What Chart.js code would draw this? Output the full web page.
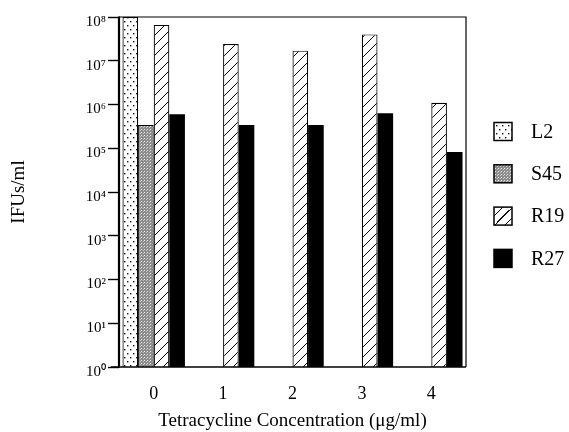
<!DOCTYPE html>
<html>
<head>
<meta charset="utf-8">
<script src="https://cdn.jsdelivr.net/npm/chart.js@4/dist/chart.umd.min.js"></script>
<style>
  html, body { margin: 0; padding: 0; background: #fff; }
  #wrap { width: 569px; height: 432px; }
</style>
</head>
<body>
<div id="wrap"><canvas id="chart" width="569" height="432"></canvas></div>
<script>
// Data
const concentrations = ['0', '1', '2', '3', '4'];
const seriesNames = ['L2', 'S45', 'R19', 'R27'];
const l2Values = [1.0e8, null, null, null, null];
const s45Values = [3.4e5, null, null, null, null];
const r19Values = [6.6e7, 2.4e7, 1.7e7, 4.0e7, 1.1e6];
const r27Values = [6.0e5, 3.4e5, 3.4e5, 6.3e5, 8.2e4];
const tickValues = [1, 1e1, 1e2, 1e3, 1e4, 1e5, 1e6, 1e7, 1e8];
const tickLabels = ['10⁰', '10¹', '10²', '10³', '10⁴', '10⁵', '10⁶', '10⁷', '10⁸'];

const FONT = "'Liberation Serif', 'Times New Roman', serif";

// Fill patterns
const makePattern = (w, h, draw) => {
	let c = document.createElement('canvas');
	c.width = w;
	c.height = h;
	let g = c.getContext('2d');
	draw(g, w, h);
	return g.createPattern(c, 'repeat');
};

const dots = makePattern(6, 8, (g, w, h) => {
	g.fillStyle = '#fff';
	g.fillRect(0, 0, w, h);
	g.fillStyle = '#111';
	g.fillRect(1, 1, 1.4, 1.4);
	g.fillRect(4, 5, 1.4, 1.4);
});

const stipple = makePattern(3, 3, (g, w, h) => {
	g.fillStyle = '#8c8c8c';
	g.fillRect(0, 0, w, h);
	g.fillStyle = '#e8e8e8';
	g.fillRect(0, 0, 1, 1);
	g.fillStyle = '#c4c4c4';
	g.fillRect(2, 1, 1, 1);
});

const hatch = makePattern(10, 10, (g, w, h) => {
	g.fillStyle = '#fff';
	g.fillRect(0, 0, w, h);
	g.strokeStyle = '#000';
	g.lineWidth = 1;
	g.beginPath();
	g.moveTo(-1, h + 1);
	g.lineTo(w + 1, -1);
	g.stroke();
});

const fills = [dots, stipple, hatch, '#000'];

// Frame around the plot area
const framePlugin = {
	id: 'frame',
	afterDatasetsDraw(chart) {
		const { left, right, top, bottom } = chart.chartArea;
		const ctx = chart.ctx;
		ctx.save();
		ctx.strokeStyle = '#000';
		ctx.lineWidth = 1.2;
		ctx.beginPath();
		ctx.moveTo(left, top);
		ctx.lineTo(right, top);
		ctx.lineTo(right, bottom);
		ctx.stroke();
		ctx.lineWidth = 1.6;
		ctx.beginPath();
		ctx.moveTo(left - 8, bottom);
		ctx.lineTo(right, bottom);
		ctx.stroke();
		ctx.lineWidth = 2.2;
		ctx.beginPath();
		ctx.moveTo(left, top - 0.5);
		ctx.lineTo(left, bottom + 0.5);
		ctx.stroke();
		ctx.restore();
	}
};

// Legend on the right, drawn by hand to match the figure
const legendPlugin = {
	id: 'sideLegend',
	afterDraw(chart) {
		const ctx = chart.ctx;
		ctx.save();
		ctx.font = `20px ${FONT}`;
		ctx.textBaseline = 'middle';
		chart.data.datasets.forEach((ds, i) => {
			let y = 131.5 + i * 42.3;
			ctx.fillStyle = fills[i];
			ctx.fillRect(494, y - 9, 18, 18);
			if (i === 2) {
				ctx.strokeStyle = '#000';
				ctx.lineWidth = 1;
				ctx.beginPath();
				ctx.moveTo(497, y + 6);
				ctx.lineTo(509, y - 6);
				ctx.stroke();
			}
			ctx.strokeStyle = '#000';
			ctx.lineWidth = 1.5;
			ctx.strokeRect(494, y - 9, 18, 18);
			ctx.fillStyle = '#000';
			ctx.fillText(ds.label, 531, y + 1);
		});
		ctx.restore();
	}
};

const barData = {
	labels: concentrations,
	datasets: [l2Values, s45Values, r19Values, r27Values].map((vals, i) => ({
		label: seriesNames[i],
		data: vals,
		backgroundColor: fills[i],
		borderColor: '#000',
		borderWidth: i === 3 ? 0 : 1.2,
		borderSkipped: 'bottom',
		barPercentage: 1.0,
		categoryPercentage: 0.9
	}))
};

new Chart(document.getElementById('chart').getContext('2d'), {
	type: 'bar',
	data: barData,
	options: {
		responsive: false,
		animation: false,
		layout: { padding: { left: 0, top: 17, right: 103, bottom: 0 } },
		plugins: {
			legend: { display: false },
			tooltip: { enabled: false }
		},
		scales: {
			x: {
				grid: { display: false },
				border: { display: false },
				ticks: {
					color: '#000',
					padding: 8,
					font: { family: FONT, size: 18 }
				},
				title: {
					display: true,
					text: 'Tetracycline Concentration (μg/ml)',
					color: '#000',
					font: { family: FONT, size: 19 },
					padding: { top: 0, bottom: 0 }
				},
				afterFit: (scale) => { scale.height = 65; }
			},
			y: {
				type: 'logarithmic',
				min: 1,
				max: 1e8,
				grid: {
					display: true,
					drawOnChartArea: false,
					drawTicks: true,
					tickLength: 11,
					tickWidth: 1.4,
					color: '#000'
				},
				border: { display: false },
				afterBuildTicks: (scale) => {
					scale.ticks = tickValues.map(v => ({ value: v }));
				},
				ticks: {
					color: '#000',
					padding: 2,
					labelOffset: 5,
					autoSkip: false,
					font: { family: FONT, size: 15 },
					callback: (value, index) => tickLabels[index]
				},
				title: {
					display: true,
					text: 'IFUs/ml',
					color: '#000',
					font: { family: FONT, size: 19 },
					padding: { top: 8, bottom: 0 }
				},
				afterFit: (scale) => { scale.width = 119; }
			}
		}
	},
	plugins: [framePlugin, legendPlugin]
});
</script>
</body>
</html>
